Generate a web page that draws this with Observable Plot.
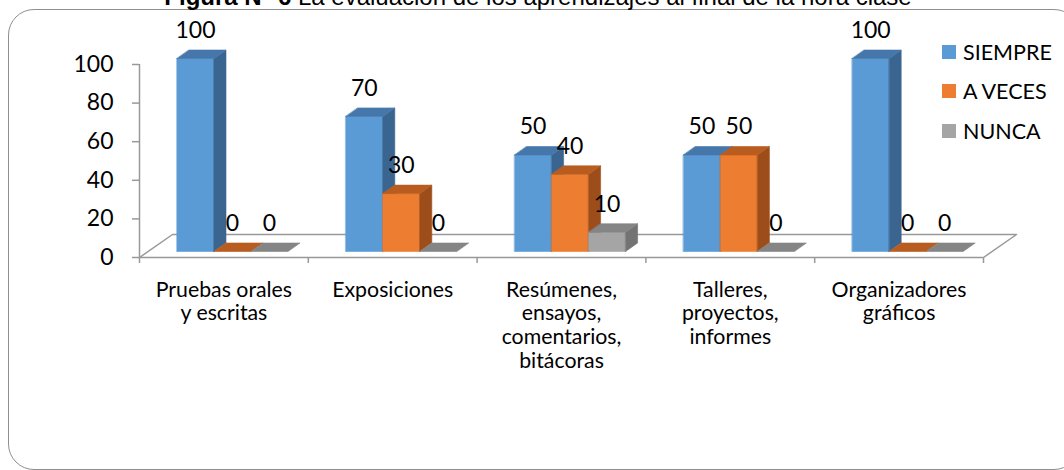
<!DOCTYPE html>
<html>
<head>
<meta charset="utf-8">
<script src="https://cdn.jsdelivr.net/npm/d3@7"></script>
<script src="https://cdn.jsdelivr.net/npm/@observablehq/plot@0.6"></script>
<style>
  html, body { margin: 0; padding: 0; background: #fff; }
  #wrap { position: relative; width: 1064px; height: 470px; overflow: hidden; background: #fff; }
  #frame { position: absolute; left: 8px; top: 9px; width: 1072px; height: 461px; border: 1.5px solid #8f8f8f; border-radius: 26px; pointer-events: none; box-sizing: border-box; }
  #title { position: absolute; left: 0; top: -15px; width: 1076px; text-align: center; font-family: "Liberation Sans", Arial, sans-serif; font-size: 24px; line-height: 1; white-space: nowrap; color: #000; }
  #legend { position: absolute; left: 942px; top: 32px; font-family: Lato, sans-serif; font-size: 21.5px; color: #000; }
  #legend .row { display: flex; align-items: center; height: 39.5px; }
  #legend .sw { width: 14px; height: 14px; margin-right: 7px; }
</style>
</head>
<body>
<div id="wrap">
  <div id="chart"></div>
  <div id="frame"></div>
  <div id="title"></div>
  <div id="legend"></div>
</div>
<script>
// ---- data ----
const titleBold = "Figura N° 6";
const titleRest = " La evaluación de los aprendizajes al final de la hora clase";
const categories = [
  "Pruebas orales\ny escritas",
  "Exposiciones",
  "Resúmenes,\nensayos,\ncomentarios,\nbitácoras",
  "Talleres,\nproyectos,\ninformes",
  "Organizadores\ngráficos"
];
const seriesNames = ["SIEMPRE", "A VECES", "NUNCA"];
const siempre = [100, 70, 50, 50, 100];
const aVeces = [0, 30, 40, 50, 0];
const nunca = [0, 0, 10, 0, 0];
const yTicks = [0, 20, 40, 60, 80, 100];

// ---- styles ----
const frontColors = ["#5B9BD5", "#ED7D31", "#A5A5A5"];
const topColors = ["#4677AA", "#B85C20", "#858585"];
const sideColors = ["#3A6590", "#9C4D1A", "#737373"];
const gray = "#999999";

// ---- layout ----
const W = 1064, H = 470;
const mL = 139, mR = 81, mT = 64, mB = 213;
const nCat = categories.length;
const yMax = 100;
const pxX = (W - mL - mR) / nCat;   // px per category unit
const pxY = (H - mT - mB) / yMax;   // px per value unit
// 3D geometry (pixels -> data units)
const floorDx = 33 / pxX, floorDy = 23 / pxY;
const frontDx = 8.6 / pxX, frontDy = 6 / pxY;
const depthDx = 12 / pxX, depthDy = 8.5 / pxY;
const bw = 37 / pxX;
const gapStart = (1 - seriesNames.length * bw) / 2;

const seriesValues = [siempre, aVeces, nunca];

// faces in draw order (per category, per series: front, side, top)
const faces = [];
const labels = [];
categories.forEach((c, i) => {
  seriesValues.forEach((vals, s) => {
    const v = vals[i];
    const x0 = i + gapStart + s * bw + frontDx;
    const x1 = x0 + bw;
    const yb = frontDy, yt = v + frontDy;
    const id = `${i}-${s}`;
    if (v > 0) {
      [[x0, yb], [x1, yb], [x1, yt], [x0, yt]].forEach(([x, y]) => faces.push({id: id + "f", x, y, color: frontColors[s]}));
      [[x1, yb], [x1 + depthDx, yb + depthDy], [x1 + depthDx, yt + depthDy], [x1, yt]].forEach(([x, y]) => faces.push({id: id + "s", x, y, color: sideColors[s]}));
    }
    [[x0, yt], [x1, yt], [x1 + depthDx, yt + depthDy], [x0 + depthDx, yt + depthDy]].forEach(([x, y]) => faces.push({id: id + "t", x, y, color: topColors[s]}));
    labels.push({x: (x0 + x1) / 2, y: v, text: String(v)});
  });
});

const floor = [
  {x: 0, y: 0}, {x: nCat, y: 0}, {x: nCat + floorDx, y: floorDy}, {x: floorDx, y: floorDy}, {x: 0, y: 0}
];

const chart = Plot.plot({
  width: W, height: H,
  marginLeft: mL, marginRight: mR, marginTop: mT, marginBottom: mB,
  style: {fontFamily: "Lato, sans-serif", background: "transparent", color: "#000"},
  x: {type: "linear", domain: [0, nCat]},
  y: {type: "linear", domain: [0, yMax]},
  color: {type: "identity"},
  marks: [
    Plot.line(floor, {x: "x", y: "y", stroke: gray, strokeWidth: 1.5, strokeLinecap: "butt"}),
    Plot.ruleX([0], {y1: 0, y2: yMax, stroke: gray, strokeWidth: 1.5}),
    Plot.axisY(yTicks, {tickSize: 7, tickPadding: 19, fontSize: 23, stroke: gray, strokeWidth: 1.5, fill: "#000", label: null}),
    Plot.axisX(d3.range(nCat + 1), {tickSize: 6, fill: "none", stroke: gray, strokeWidth: 1.5, label: null}),
    Plot.line(faces, {x: "x", y: "y", z: "id", fill: "color", stroke: "color", strokeWidth: 0.6, curve: "linear-closed"}),
    Plot.text(labels, {x: "x", y: "y", text: "text", dy: -34, fontSize: 23, fill: "#000"}),
    Plot.text(categories, {x: (d, i) => i + 0.5, y: () => 0, text: d => d, dy: 22.5, lineAnchor: "top", lineHeight: 1.11, fontSize: 21.3, fill: "#000"})
  ]
});
document.getElementById("chart").appendChild(chart);

// title
const t = document.getElementById("title");
const b = document.createElement("b");
b.textContent = titleBold;
t.appendChild(b);
t.appendChild(document.createTextNode(titleRest));

// legend
const lg = document.getElementById("legend");
seriesNames.forEach((n, s) => {
  const row = document.createElement("div");
  row.className = "row";
  const sw = document.createElement("div");
  sw.className = "sw";
  sw.style.background = frontColors[s];
  const tx = document.createElement("span");
  tx.textContent = n;
  row.appendChild(sw);
  row.appendChild(tx);
  lg.appendChild(row);
});
</script>
</body>
</html>
